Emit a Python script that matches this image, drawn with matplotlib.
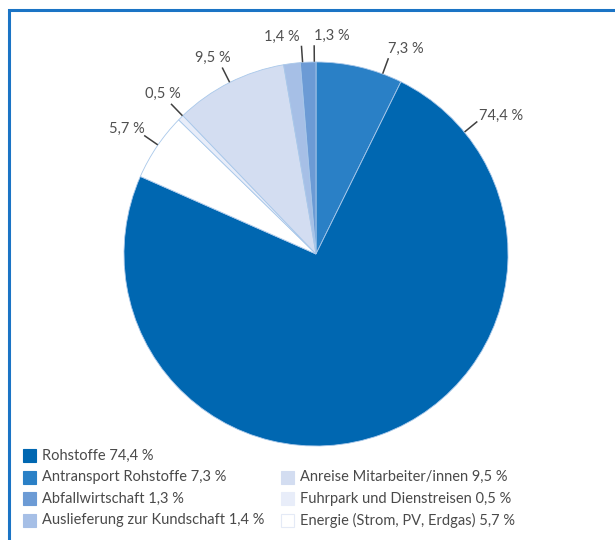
import numpy as np
import matplotlib.pyplot as plt
from matplotlib.patches import Rectangle

plt.rcParams['font.family'] = ['Lato', 'DejaVu Sans']

# slices, clockwise from 12 o'clock
names = ['Antransport Rohstoffe', 'Rohstoffe', 'Energie (Strom, PV, Erdgas)',
         'Fuhrpark und Dienstreisen', 'Anreise Mitarbeiter/innen',
         'Auslieferung zur Kundschaft', 'Abfallwirtschaft']
values = [7.3, 74.4, 5.7, 0.5, 9.5, 1.4, 1.3]
labels = ['7,3 %', '74,4 %', '5,7 %', '0,5 %', '9,5 %', '1,4 %', '1,3 %']
colors = ['#2a80c6', '#0067b1', '#ffffff', '#e8edf9', '#d3ddf1', '#a6bfe6', '#6c9bd5']

# legend order as in the original
legend_order = ['Rohstoffe', 'Antransport Rohstoffe', 'Abfallwirtschaft',
                'Auslieferung zur Kundschaft', 'Anreise Mitarbeiter/innen',
                'Fuhrpark und Dienstreisen', 'Energie (Strom, PV, Erdgas)']
legend_text = ['Rohstoffe 74,4 %', 'Antransport Rohstoffe 7,3 %', 'Abfallwirtschaft 1,3 %',
               'Auslieferung zur Kundschaft 1,4 %', 'Anreise Mitarbeiter/innen 9,5 %',
               'Fuhrpark und Dienstreisen 0,5 %', 'Energie (Strom, PV, Erdgas) 5,7 %']

# where the leader lines sit (degrees) and how the text hangs off them
lab_ang = [69.7, 39.4, 145.4, 134.0, 116.7, 94.0, 90.5]
lab_ha = ['left', 'left', 'right', 'right', 'right', 'right', 'left']
lab_dx = [0, 2, 0, 9, 8, -2, 0]
lab_dy = [3, -1, 0, 3, 3, 3, 3]

W, H = 615, 540
fig = plt.figure(figsize=(W / 100, H / 100), dpi=100)
ax = fig.add_axes([0, 0, 1, 1])

cx, cy, R = 316, H - 254, 192
wedges, _ = ax.pie(values, colors=colors, startangle=90, counterclock=False,
                   center=(cx, cy), radius=R, frame=True,
                   wedgeprops=dict(edgecolor='#a9c8ea', linewidth=0.6))
ax.set_xlim(0, W)
ax.set_ylim(0, H)
ax.set_aspect('equal')
ax.axis('off')

for lab, a, ha, dx, dy in zip(labels, lab_ang, lab_ha, lab_dx, lab_dy):
    t = np.deg2rad(a)
    x0, y0 = cx + (R + 1) * np.cos(t), cy + (R + 1) * np.sin(t)
    x1, y1 = cx + (R + 16) * np.cos(t), cy + (R + 16) * np.sin(t)
    ax.plot([x0, x1], [y0, y1], color='#404040', lw=1.1)
    ax.text(x1 + dx, y1 + dy, lab, ha=ha, va='bottom', fontsize=10.5, color='#505050')

# frame
ax.plot([9, 9, W + 5], [-5, H - 10, H - 10], color='#1b74c5', lw=2.2,
        solid_joinstyle='miter', clip_on=False)

# legend
col_x = [23, 281]
rows = [0, 1, 2, 3, 1, 2, 3]
cols = [0, 0, 0, 0, 1, 1, 1]
cmap = dict(zip(names, colors))
for name, txt, r, c in zip(legend_order, legend_text, rows, cols):
    yc = H - (455.5 + r * 21.5)
    ax.add_patch(Rectangle((col_x[c], yc - 6.5), 13, 13, facecolor=cmap[name],
                           edgecolor='#e4eaf6' if cmap[name] == '#ffffff' else cmap[name],
                           lw=0.8))
    ax.text(col_x[c] + 19, yc, txt, ha='left', va='center', fontsize=10.5, color='#4a4a4a')

fig.savefig('out.png', dpi=100)
